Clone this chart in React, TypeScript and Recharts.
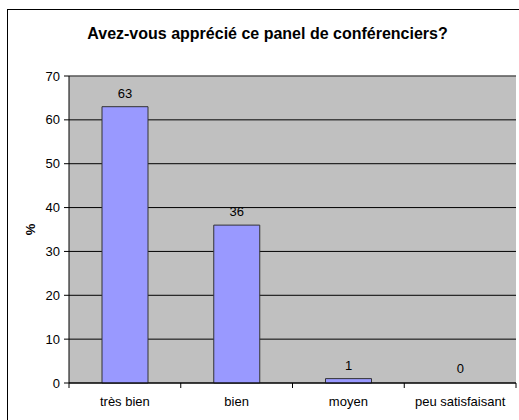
import React from "react";
import {
  BarChart,
  Bar,
  Cell,
  XAxis,
  YAxis,
  CartesianGrid,
  ReferenceLine,
  LabelList,
} from "recharts";

const categories = ["très bien", "bien", "moyen", "peu satisfaisant"];
const percentages = [63, 36, 1, 0];
const yTicks = [0, 10, 20, 30, 40, 50, 60, 70];

const data = categories.map((name, i) => ({ name, value: percentages[i] }));

const FONT = "'Liberation Sans', Arial, sans-serif";

// category axis label at the centre, tick marks on the band edges (Excel style)
const EdgeTick = ({ x, y, payload, index }: any) => {
  const half = payload.offset || 0;
  const top = y - 9;
  return (
    <g>
      <line x1={x - half} x2={x - half} y1={top - 5} y2={top} stroke="#000" />
      {index === categories.length - 1 && (
        <line x1={x + half} x2={x + half} y1={top - 5} y2={top} stroke="#000" />
      )}
      <text x={x} y={y} dy="0.71em" textAnchor="middle" fontSize={13} fill="#000" fontFamily={FONT}>
        {payload.value}
      </text>
    </g>
  );
};

const PercentLabel = ({ viewBox }: any) => {
  const cx = 30;
  const cy = viewBox.y + viewBox.height / 2;
  return (
    <text
      x={cx}
      y={cy}
      transform={`rotate(-90 ${cx} ${cy})`}
      textAnchor="middle"
      dominantBaseline="central"
      fontSize={13}
      fontWeight="bold"
      fill="#000"
      fontFamily={FONT}
    >
      %
    </text>
  );
};

// value above each bar, also for the zero bar
const ValueLabel = ({ x, y, width, value }: any) => (
  <text
    x={x + width / 2}
    y={y - 9}
    textAnchor="middle"
    fontSize={13}
    fill="#000"
    fontFamily={FONT}
  >
    {String(value)}
  </text>
);

export default function App() {
  return (
    <div
      style={{
        position: "absolute",
        left: 0,
        top: 0,
        width: 519,
        height: 420,
        overflow: "hidden",
        background: "#fff",
        fontFamily: FONT,
      }}
    >
      <div
        style={{
          position: "absolute",
          left: 7,
          top: 9,
          width: 530,
          height: 430,
          border: "1px solid #000",
        }}
      />
      <div
        style={{
          position: "absolute",
          left: 0,
          top: 26,
          width: 535,
          textAlign: "center",
          fontSize: 16,
          lineHeight: "16px",
          fontWeight: "bold",
          color: "#000",
        }}
      >
        Avez-vous apprécié ce panel de conférenciers?
      </div>
      <div style={{ position: "absolute", left: 0, top: 0 }}>
        <BarChart
          width={519}
          height={420}
          data={data}
          margin={{ top: 76, right: 3, left: 0, bottom: 0 }}
        >
          <CartesianGrid fill="#c0c0c0" stroke="#000" vertical={false} />
          <XAxis
            dataKey="name"
            height={37}
            axisLine={{ stroke: "#000" }}
            tickLine={false}
            tickSize={5}
            tickMargin={9}
            tick={<EdgeTick />}
            interval={0}
          />
          <YAxis
            domain={[0, 70]}
            ticks={yTicks}
            width={69}
            axisLine={{ stroke: "#000" }}
            tickLine={{ stroke: "#000" }}
            tickSize={5}
            tickMargin={4}
            tick={{ fontSize: 13, fill: "#000", fontFamily: FONT }}
            label={<PercentLabel />}
          />
          <YAxis
            yAxisId="frame"
            orientation="right"
            domain={[0, 70]}
            width={0}
            tick={false}
            tickLine={false}
            axisLine={{ stroke: "#808080" }}
          />
          <ReferenceLine y={70} stroke="#808080" />
          <Bar
            dataKey="value"
            fill="#9999ff"
            stroke="#333333"
            barSize={46}
            minPointSize={1}
            isAnimationActive={false}
          >
            {data.map((d, i) => (
              <Cell
                key={`cell-${i}`}
                fill={d.value === 0 ? "none" : "#9999ff"}
                stroke={d.value === 0 ? "none" : "#333333"}
              />
            ))}
            <LabelList dataKey="value" content={<ValueLabel />} />
          </Bar>
        </BarChart>
      </div>
    </div>
  );
}
